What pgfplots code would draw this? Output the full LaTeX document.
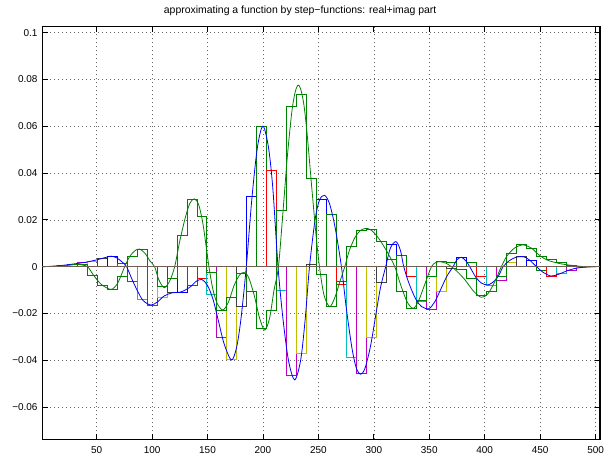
\documentclass[border=0pt]{standalone}
\usepackage{fontspec}
\setmainfont{Liberation Sans}
\usepackage{pgfplots}
\pgfplotsset{compat=1.18}
\definecolor{mgreen}{rgb}{0,0.5,0}
\definecolor{mred}{rgb}{1,0,0}
\definecolor{mcyan}{rgb}{0,0.75,0.75}
\definecolor{mmag}{rgb}{0.75,0,0.75}
\definecolor{molive}{rgb}{0.75,0.75,0}
\definecolor{mgray}{rgb}{0.25,0.25,0.25}
\definecolor{mblue}{rgb}{0,0,1}
\definecolor{zline}{RGB}{112,96,84}
\begin{document}
\begin{tikzpicture}
\path[use as bounding box] (-42.3bp,-15.7bp) rectangle (564.7bp,439.3bp);
\begin{axis}[
  at={(0,0)}, anchor=south west,
  scale only axis, width=557.7bp, height=412.6bp,
  xmin=1, xmax=504, ymin=-0.0738, ymax=0.1026,
  xtick={50,100,150,200,250,300,350,400,450,500},
  ytick={-0.06,-0.04,-0.02,0,0.02,0.04,0.06,0.08,0.1},
  yticklabels={−0.06,−0.04,−0.02,0,0.02,0.04,0.06,0.08,0.1},
  /pgf/number format/assume math mode=true,
  tick align=inside, major tick length=5.5bp,
  tick style={black, line width=0.8bp},
  grid=major,
  grid style={black!60, line width=0.6bp, dash pattern=on 0.8bp off 3.2bp},
  axis line style={line width=1.2bp},
  tick label style={font=\fontsize{10}{12}\selectfont},
  yticklabel style={xshift=-1.3bp},
  xticklabel style={yshift=-4bp},
  title={approximating a function by step−functions: real+imag part},
  title style={font=\fontsize{10.5}{12}\selectfont, at={(0.5,1)}, anchor=base, yshift=7bp, xshift=-21bp},
  every axis plot/.append style={no markers, line width=0.9bp},
]
% coarse step approximation of the real part (one outlined bar per step)
\addplot[mgreen] coordinates {(5.5,0)(5.5,0.0002)(14.5,0.0002)(14.5,0)};
\addplot[mred] coordinates {(14.5,0)(14.5,0.0005)(23.5,0.0005)(23.5,0)};
\addplot[mcyan] coordinates {(23.5,0)(23.5,0.0010)(32.5,0.0010)(32.5,0)};
\addplot[mmag] coordinates {(32.5,0)(32.5,0.0017)(41.5,0.0017)(41.5,0)};
\addplot[molive] coordinates {(41.5,0)(41.5,0.0023)(50.5,0.0023)(50.5,0)};
\addplot[mgray] coordinates {(50.5,0)(50.5,0.0034)(59.5,0.0034)(59.5,0)};
\addplot[mblue] coordinates {(59.5,0)(59.5,0.0043)(68.5,0.0043)(68.5,0)};
\addplot[mgreen] coordinates {(68.5,0)(68.5,0.0015)(77.5,0.0015)(77.5,0)};
\addplot[mred] coordinates {(77.5,0)(77.5,-0.0064)(86.5,-0.0064)(86.5,0)};
\addplot[mcyan] coordinates {(86.5,0)(86.5,-0.0142)(95.5,-0.0142)(95.5,0)};
\addplot[mmag] coordinates {(95.5,0)(95.5,-0.0164)(104.5,-0.0164)(104.5,0)};
\addplot[molive] coordinates {(104.5,0)(104.5,-0.0131)(113.5,-0.0131)(113.5,0)};
\addplot[mgray] coordinates {(113.5,0)(113.5,-0.0111)(122.5,-0.0111)(122.5,0)};
\addplot[mblue] coordinates {(122.5,0)(122.5,-0.0111)(131.5,-0.0111)(131.5,0)};
\addplot[mgreen] coordinates {(131.5,0)(131.5,-0.0081)(140.5,-0.0081)(140.5,0)};
\addplot[mred] coordinates {(140.5,0)(140.5,-0.0050)(149.5,-0.0050)(149.5,0)};
\addplot[mcyan] coordinates {(149.5,0)(149.5,-0.0118)(158.5,-0.0118)(158.5,0)};
\addplot[mmag] coordinates {(158.5,0)(158.5,-0.0303)(167.5,-0.0303)(167.5,0)};
\addplot[molive] coordinates {(167.5,0)(167.5,-0.0396)(176.5,-0.0396)(176.5,0)};
\addplot[mgray] coordinates {(176.5,0)(176.5,-0.0171)(185.5,-0.0171)(185.5,0)};
\addplot[mblue] coordinates {(185.5,0)(185.5,0.0299)(194.5,0.0299)(194.5,0)};
\addplot[mgreen] coordinates {(194.5,0)(194.5,0.0598)(203.5,0.0598)(203.5,0)};
\addplot[mred] coordinates {(203.5,0)(203.5,0.0412)(212.5,0.0412)(212.5,0)};
\addplot[mcyan] coordinates {(212.5,0)(212.5,-0.0100)(221.5,-0.0100)(221.5,0)};
\addplot[mmag] coordinates {(221.5,0)(221.5,-0.0463)(230.5,-0.0463)(230.5,0)};
\addplot[molive] coordinates {(230.5,0)(230.5,-0.0373)(239.5,-0.0373)(239.5,0)};
\addplot[mgray] coordinates {(239.5,0)(239.5,0.0008)(248.5,0.0008)(248.5,0)};
\addplot[mblue] coordinates {(248.5,0)(248.5,0.0287)(257.5,0.0287)(257.5,0)};
\addplot[mgreen] coordinates {(257.5,0)(257.5,0.0225)(266.5,0.0225)(266.5,0)};
\addplot[mred] coordinates {(266.5,0)(266.5,-0.0078)(275.5,-0.0078)(275.5,0)};
\addplot[mcyan] coordinates {(275.5,0)(275.5,-0.0390)(284.5,-0.0390)(284.5,0)};
\addplot[mmag] coordinates {(284.5,0)(284.5,-0.0455)(293.5,-0.0455)(293.5,0)};
\addplot[molive] coordinates {(293.5,0)(293.5,-0.0302)(302.5,-0.0302)(302.5,0)};
\addplot[mgray] coordinates {(302.5,0)(302.5,-0.0067)(311.5,-0.0067)(311.5,0)};
\addplot[mblue] coordinates {(311.5,0)(311.5,0.0093)(320.5,0.0093)(320.5,0)};
\addplot[mgreen] coordinates {(320.5,0)(320.5,0.0050)(329.5,0.0050)(329.5,0)};
\addplot[mred] coordinates {(329.5,0)(329.5,-0.0043)(338.5,-0.0043)(338.5,0)};
\addplot[mcyan] coordinates {(338.5,0)(338.5,-0.0150)(347.5,-0.0150)(347.5,0)};
\addplot[mmag] coordinates {(347.5,0)(347.5,-0.0183)(356.5,-0.0183)(356.5,0)};
\addplot[molive] coordinates {(356.5,0)(356.5,-0.0104)(365.5,-0.0104)(365.5,0)};
\addplot[mgray] coordinates {(365.5,0)(365.5,-0.0007)(374.5,-0.0007)(374.5,0)};
\addplot[mblue] coordinates {(374.5,0)(374.5,0.0039)(383.5,0.0039)(383.5,0)};
\addplot[mgreen] coordinates {(383.5,0)(383.5,0.0017)(392.5,0.0017)(392.5,0)};
\addplot[mred] coordinates {(392.5,0)(392.5,-0.0043)(401.5,-0.0043)(401.5,0)};
\addplot[mcyan] coordinates {(401.5,0)(401.5,-0.0081)(410.5,-0.0081)(410.5,0)};
\addplot[mmag] coordinates {(410.5,0)(410.5,-0.0057)(419.5,-0.0057)(419.5,0)};
\addplot[molive] coordinates {(419.5,0)(419.5,0.0020)(428.5,0.0020)(428.5,0)};
\addplot[mgray] coordinates {(428.5,0)(428.5,0.0043)(437.5,0.0043)(437.5,0)};
\addplot[mblue] coordinates {(437.5,0)(437.5,0.0026)(446.5,0.0026)(446.5,0)};
\addplot[mgreen] coordinates {(446.5,0)(446.5,-0.0017)(455.5,-0.0017)(455.5,0)};
\addplot[mred] coordinates {(455.5,0)(455.5,-0.0040)(464.5,-0.0040)(464.5,0)};
\addplot[mcyan] coordinates {(464.5,0)(464.5,-0.0031)(473.5,-0.0031)(473.5,0)};
\addplot[mmag] coordinates {(473.5,0)(473.5,-0.0017)(482.5,-0.0017)(482.5,0)};
\addplot[molive] coordinates {(482.5,0)(482.5,-0.0005)(491.5,-0.0005)(491.5,0)};
% step approximation of the imaginary part
\addplot[mgreen, const plot mark left] coordinates {
(1,0) (5.5,0.0002) (14.5,0.0004) (23.5,0.0008) (32.5,0.0010) (41.5,-0.0036) (50.5,-0.0082) (59.5,-0.0097) (68.5,-0.0043) (77.5,0.0043) (86.5,0.0074) (95.5,0.0003) (104.5,-0.0085) (113.5,-0.0050) (122.5,0.0135) (131.5,0.0288) (140.5,0.0214) (149.5,-0.0026) (158.5,-0.0188) (167.5,-0.0131) (176.5,-0.0028) (185.5,-0.0107) (194.5,-0.0263) (203.5,-0.0185) (212.5,0.0242) (221.5,0.0685) (230.5,0.0738) (239.5,0.0378) (248.5,-0.0033) (257.5,-0.0171) (266.5,-0.0064) (275.5,0.0085) (284.5,0.0154) (293.5,0.0160) (302.5,0.0110) (311.5,0.0029) (320.5,-0.0107) (329.5,-0.0178) (338.5,-0.0145) (347.5,-0.0043) (356.5,0.0021) (365.5,0.0017) (374.5,-0.0011) (383.5,-0.0050) (392.5,-0.0121) (401.5,-0.0107) (410.5,-0.0043) (419.5,0.0057) (428.5,0.0093) (437.5,0.0079) (446.5,0.0043) (455.5,0.0029) (464.5,0.0017) (473.5,0.0007) (482.5,0.0002) (491.5,0) (504,0)};
% real part
\addplot[mblue, smooth, line width=0.8bp] coordinates {
(1,0) (10,0.0002) (20,0.0006) (30,0.0012) (40,0.0019) (50,0.0029) (57,0.0038) (63,0.0045) (68,0.0038) (73,0.0020) (77,0) (82,-0.0055) (87,-0.0105) (92,-0.0145) (99,-0.0164) (105,-0.0150) (111,-0.0125) (118,-0.0112) (126,-0.0108) (134,-0.0088) (140,-0.0062) (145,-0.0055) (150,-0.0080) (155,-0.0140) (160,-0.0235) (165,-0.0330) (171.5,-0.0399) (176,-0.0350) (180,-0.0230) (185,0) (190,0.0290) (195,0.0510) (200,0.0601) (205,0.0510) (209,0.0330) (213.6,0) (218,-0.0220) (223,-0.0400) (228.6,-0.0484) (234,-0.0400) (238,-0.0230) (242,0) (247,0.0200) (251,0.0285) (255.5,0.0305) (260,0.0270) (265,0.0170) (270.8,0) (275,-0.0170) (280,-0.0340) (284,-0.0430) (288,-0.0460) (292,-0.0435) (297,-0.0340) (302,-0.0200) (306,-0.0090) (310.7,0) (315,0.0080) (320,0.0107) (324,0.0070) (327,0) (332,-0.0075) (338,-0.0140) (343,-0.0170) (349.5,-0.0180) (355,-0.0150) (361,-0.0090) (366,-0.0040) (371.5,0) (375,0.0030) (379,0.0040) (383,0.0025) (386.5,0) (392,-0.0045) (397,-0.0070) (403,-0.0078) (409,-0.0060) (413,-0.0035) (416.6,0) (422,0.0025) (428,0.0040) (434.6,0.0043) (440,0.0030) (446.7,0) (453,-0.0025) (460,-0.0040) (467,-0.0032) (474,-0.0018) (482,-0.0007) (490,-0.0002) (500,0)};
% imaginary part
\addplot[mgreen, smooth, line width=0.8bp] coordinates {
(1,0) (15,0.0002) (25,0.0006) (33,0.0010) (38,0.0006) (42,0) (47,-0.0035) (54,-0.0075) (63,-0.0097) (69,-0.0070) (75.3,0) (80,0.0045) (85,0.0070) (89,0.0075) (94,0.0055) (98,0.0025) (102.3,0) (106,-0.0055) (111,-0.0090) (116,-0.0060) (120.4,0) (125,0.0110) (130,0.0210) (134,0.0270) (138,0.0290) (142,0.0265) (146,0.0180) (151.3,0) (155,-0.0100) (159,-0.0160) (164,-0.0185) (169,-0.0150) (174,-0.0080) (179,-0.0035) (183,-0.0025) (187,-0.0045) (192,-0.0120) (197,-0.0220) (201.6,-0.0271) (206,-0.0220) (210,-0.0100) (214,0) (218,0.0230) (222,0.0470) (226,0.0660) (229,0.0745) (231.6,0.0776) (234,0.0760) (237,0.0690) (240,0.0560) (244,0.0340) (248,0.0130) (251,0) (255,-0.0120) (260.2,-0.0171) (265,-0.0130) (269,-0.0070) (273.8,0) (278,0.0070) (283,0.0125) (288,0.0155) (293.3,0.0164) (298,0.0155) (303,0.0130) (308,0.0095) (313,0.0055) (318.9,0) (324,-0.0075) (330,-0.0150) (335.4,-0.0178) (340,-0.0150) (346,-0.0075) (352,0) (356,0.0018) (360,0.0021) (365,0.0015) (370,0) (375,-0.0020) (382,-0.0055) (390,-0.0105) (397,-0.0131) (403,-0.0115) (409,-0.0065) (415,0) (420,0.0045) (427,0.0080) (434.6,0.0093) (442,0.0080) (449,0.0050) (456,0.0029) (466,0.0015) (476,0.0007) (488,0.0001) (500,0)};
% zero line
\addplot[zline, line width=1.6bp] coordinates {(1,0) (504,0)};
\end{axis}
\end{tikzpicture}
\end{document}
